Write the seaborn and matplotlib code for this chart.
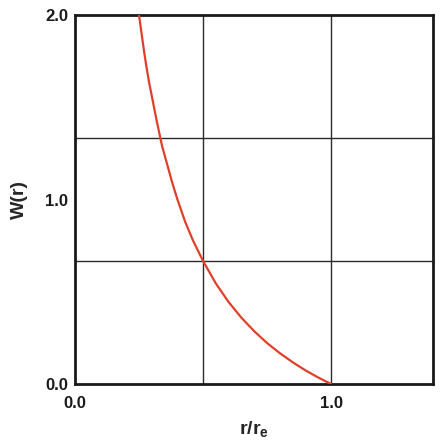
import matplotlib
matplotlib.use("Agg")
import matplotlib.pyplot as plt
import seaborn as sns
import pandas as pd

sns.set_theme(style="white")
plt.rcParams['font.family'] = ['Liberation Sans', 'DejaVu Sans']
plt.rcParams['mathtext.fontset'] = 'custom'
plt.rcParams['mathtext.bf'] = 'Liberation Sans:bold'
plt.rcParams['mathtext.rm'] = 'Liberation Sans'

# Values
r_ratio = [0.25, 0.26, 0.27, 0.28, 0.29, 0.30, 0.32, 0.34, 0.36, 0.38, 0.40,
           0.43, 0.46, 0.50, 0.55, 0.60, 0.65, 0.70, 0.75, 0.80, 0.85, 0.90,
           0.95, 1.00]
w_vals = [2.00, 1.90, 1.80, 1.71, 1.63, 1.56, 1.42, 1.29, 1.19, 1.09, 1.00,
          0.88, 0.78, 0.667, 0.545, 0.444, 0.359, 0.286, 0.222, 0.167, 0.118,
          0.074, 0.035, 0.0]
x_ticks = [0.0, 1.0]
x_tick_labels = ["0.0", "1.0"]
y_ticks = [0.0, 1.0, 2.0]
y_tick_labels = ["0.0", "1.0", "2.0"]
x_grid = [0.5, 1.0]
y_grid = [2/3, 4/3]

df = pd.DataFrame({"r": r_ratio, "W": w_vals})

fig = plt.figure(figsize=(4.4, 4.43), dpi=100)
ax = fig.add_axes([75/440, 1-384/443, (433-75)/440, (384-15)/443])

for gx in x_grid:
    ax.axvline(gx, color="#2b2b2b", lw=1.0, zorder=1)
for gy in y_grid:
    ax.axhline(gy, color="#2b2b2b", lw=1.0, zorder=1)

sns.lineplot(data=df, x="r", y="W", ax=ax, color="#e0402a", lw=1.6, zorder=3)

ax.set_xlim(0, 1.398)
ax.set_ylim(0, 2.0)
ax.set_xticks(x_ticks)
ax.set_xticklabels(x_tick_labels, fontweight="bold", fontsize=12)
ax.set_yticks(y_ticks)
ax.set_yticklabels(y_tick_labels, fontweight="bold", fontsize=12)
ax.tick_params(axis="x", length=0, pad=9, colors="#1a1a1a")
ax.tick_params(axis="y", length=0, pad=5, colors="#1a1a1a")

for s in ax.spines.values():
    s.set_color("#1a1a1a")
    s.set_linewidth(2.0)

ax.set_xlabel(r"r/r$_\mathbf{e}$", fontweight="bold", fontsize=14, labelpad=6)
ax.set_ylabel("W(r)", fontweight="bold", fontsize=14, labelpad=12)
ax.grid(False)

fig.savefig("out.png", dpi=100)
